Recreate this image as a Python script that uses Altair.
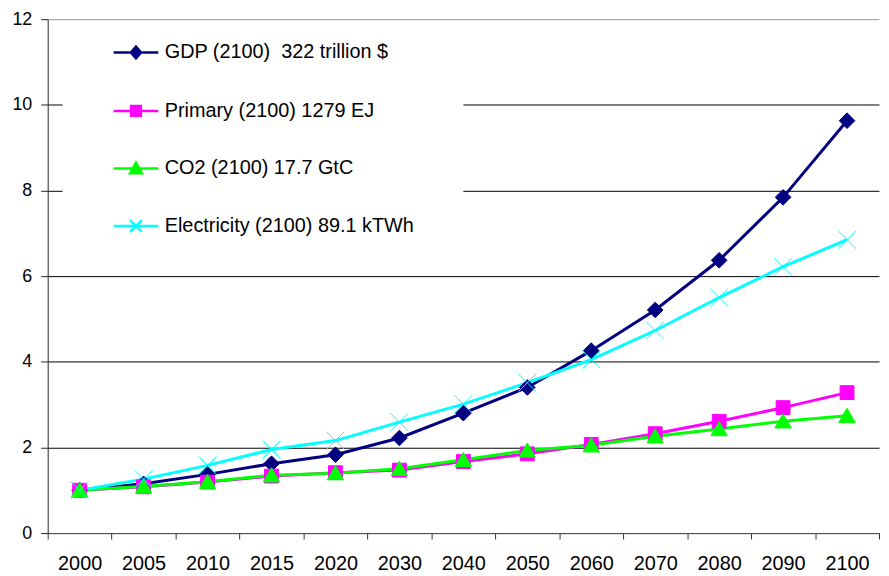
import json
import altair as alt
import pandas as pd

years = ["2000", "2005", "2010", "2015", "2020", "2030", "2040", "2050",
         "2060", "2070", "2080", "2090", "2100"]
gdp = [1.0, 1.15, 1.37, 1.62, 1.83, 2.22, 2.80, 3.40, 4.26, 5.21, 6.37, 7.84, 9.63]
primary = [1.0, 1.08, 1.19, 1.33, 1.41, 1.47, 1.67, 1.85, 2.07, 2.32, 2.61, 2.93, 3.28]
co2 = [1.0, 1.09, 1.20, 1.35, 1.40, 1.50, 1.71, 1.93, 2.05, 2.26, 2.43, 2.61, 2.74]
electricity = [1.0, 1.26, 1.58, 1.95, 2.16, 2.59, 3.01, 3.51, 4.05, 4.73, 5.50, 6.22, 6.85]

series_names = [
    "GDP (2100)\u00a0 322 trillion $",
    "Primary (2100) 1279 EJ",
    "CO2 (2100) 17.7 GtC",
    "Electricity (2100) 89.1 kTWh",
]
marker_keys = ["diamond", "square", "triangle", "x-mark"]
series_values = [gdp, primary, co2, electricity]
colors = ["#000080", "#FF00FF", "#00FF00", "#00FFFF"]

# marker shapes (unit square paths)
marker_paths = [
    "M0,-1.05L1.05,0L0,1.05L-1.05,0Z",
    "M-0.93,-0.93H0.93V0.93H-0.93Z",
    "M0,-1.0L1.1,0.9H-1.1Z",
    "M-1.2,-1.2L1.2,1.2M-1.2,1.2L1.2,-1.2",
]
marker_strokes = [1, 1, 1, 2]
# legend symbols (symbol size 24px, unit = 12px): line with marker in the middle
legend_paths = [
    "M-1.875,0H1.875M0,-0.49L0.43,0L0,0.49L-0.43,0Z",
    "M-1.875,0H1.875M-0.41,-0.41H0.41V0.41H-0.41Z",
    "M-1.875,0H1.875M0,-0.5L0.5,0.41H-0.5Z",
    "M-1.875,0H1.875M-0.5,-0.5L0.5,0.5M-0.5,0.5L0.5,-0.5",
]

rows = []
for name, key, vals in zip(series_names, marker_keys, series_values):
    for yr, v in zip(years, vals):
        rows.append({"year": yr, "series": name, "marker": key, "value": v})
df = pd.DataFrame(rows)

FONT = "Liberation Sans"

shape_expr = "[{}][indexof([{}], datum.value)]".format(
    ",".join(json.dumps(p) for p in legend_paths),
    ",".join(json.dumps(n) for n in series_names),
)
color_expr = "scale('color', datum.value)"

legend = alt.Legend(
    title="\u00a0",
    titleOrient="right",
    titlePadding=38,
    titleFontSize=8,
    orient="none",
    legendX=15,
    legendY=8,
    padding=12,
    fillColor="white",
    symbolType=alt.ExprRef(expr=shape_expr),
    symbolSize=576,
    symbolStrokeWidth=2.5,
    symbolFillColor=alt.ExprRef(expr=color_expr),
    symbolStrokeColor=alt.ExprRef(expr=color_expr),
    symbolOpacity=1,
    symbolOffset=48.5,
    labelOffset=15.5,
    labelFont=FONT,
    labelFontSize=20,
    labelColor="black",
    labelLimit=400,
    rowPadding=34,
)

color = alt.Color("series:N", scale=alt.Scale(domain=series_names, range=colors),
                  sort=series_names, legend=legend)

x = alt.X(
    "year:N",
    sort=years,
    bandPosition=0.5,
    scale=alt.Scale(type="band", paddingInner=0, paddingOuter=0, domain=years),
    axis=alt.Axis(
        title=None, labelAngle=0, tickBand="extent", grid=False,
        domainColor="#555555", tickColor="#333333", tickSize=6,
        labelFont=FONT, labelFontSize=20, labelColor="black", labelPadding=15,
    ),
)
y = alt.Y(
    "value:Q",
    scale=alt.Scale(domain=[0, 12], nice=False, zero=True),
    axis=alt.Axis(
        title=None, values=[0, 2, 4, 6, 8, 10, 12], grid=True,
        gridColor={"condition": {"test": "datum.value === 12", "value": "#999999"},
                   "value": "#000000"},
        gridWidth=1,
        domainColor="#222222", tickColor="#222222", tickSize=7,
        labelFont=FONT, labelFontSize=18, labelColor="black", labelPadding=9,
    ),
)

base = alt.Chart(df)

lines = base.mark_line(strokeWidth=3).encode(
    x=x, y=y, color=color, detail="series:N",
    order=alt.Order("year:N"),
)

points = base.mark_point(filled=True, size=225, opacity=1).encode(
    x=x, y=y, color=color,
    stroke=alt.Stroke("marker:N", scale=alt.Scale(domain=marker_keys, range=colors), legend=None),
    shape=alt.Shape("marker:N", scale=alt.Scale(domain=marker_keys, range=marker_paths), legend=None),
    strokeWidth=alt.StrokeWidth("marker:N", scale=alt.Scale(domain=marker_keys, range=marker_strokes), legend=None),
)

chart = alt.layer(lines, points).properties(
    width=838,
    height=518,
    padding={"left": 40, "top": 9, "right": 2, "bottom": 41},
    autosize="none",
    background="white",
).configure_view(stroke=None)

chart.save("out.html", embed_options={"renderer": "svg", "actions": False})
